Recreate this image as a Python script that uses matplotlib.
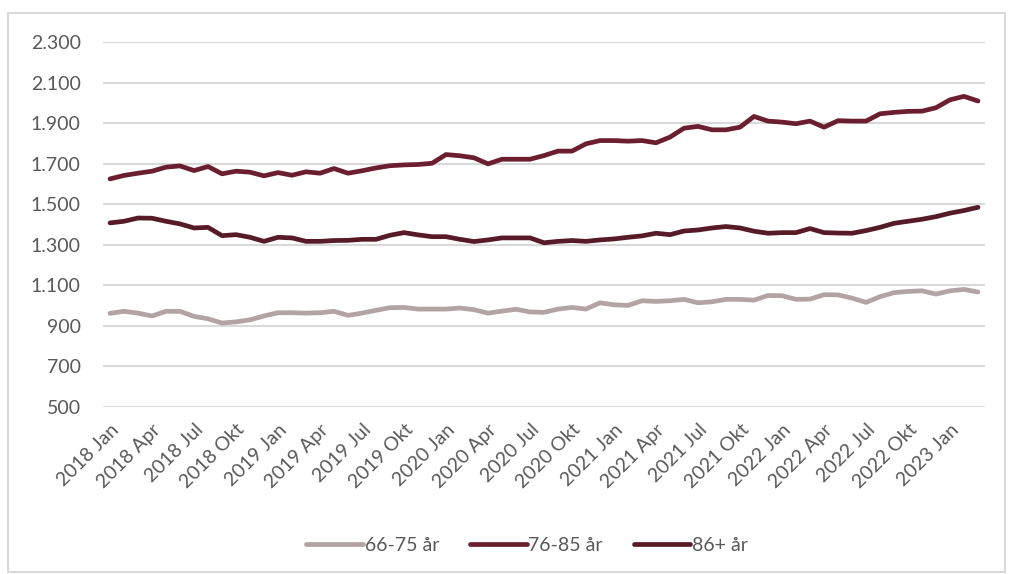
import matplotlib.pyplot as plt
from matplotlib.patches import Rectangle
from matplotlib.ticker import FuncFormatter

plt.rcParams['font.family'] = ['Lato', 'DejaVu Sans']

# Månedlige verdier, 2018 Jan - 2023 Mar
maaneder = ['Jan', 'Feb', 'Mar', 'Apr', 'Mai', 'Jun', 'Jul', 'Aug', 'Sep', 'Okt', 'Nov', 'Des']
perioder = [f"{aar} {m}" for aar in range(2018, 2024) for m in maaneder][:63]

grp_66_75 = [962, 972, 963, 949, 972, 972, 947, 935, 914, 920, 930, 949,
             965, 965, 963, 965, 972, 952, 963, 977, 990, 991, 983, 983,
             983, 988, 980, 963, 973, 982, 969, 967, 983, 991, 983, 1014,
             1004, 1001, 1024, 1021, 1024, 1031, 1014, 1019, 1031, 1031, 1027, 1050,
             1049, 1031, 1032, 1054, 1053, 1037, 1016, 1044, 1064, 1070, 1073, 1057,
             1073, 1080, 1067]
grp_76_85 = [1625, 1642, 1653, 1663, 1683, 1689, 1666, 1686, 1650, 1663, 1658, 1640,
             1656, 1643, 1660, 1653, 1676, 1653, 1665, 1679, 1690, 1694, 1696, 1702,
             1745, 1739, 1729, 1699, 1722, 1722, 1722, 1740, 1762, 1762, 1798, 1814,
             1814, 1811, 1814, 1803, 1831, 1875, 1884, 1867, 1867, 1880, 1933, 1910,
             1905, 1897, 1910, 1880, 1912, 1910, 1910, 1946, 1953, 1958, 1959, 1976,
             2015, 2032, 2009]
grp_86 = [1408, 1416, 1432, 1431, 1416, 1403, 1383, 1386, 1345, 1350, 1337, 1317,
          1337, 1334, 1317, 1317, 1321, 1322, 1327, 1327, 1347, 1360, 1349, 1340,
          1340, 1327, 1316, 1324, 1334, 1334, 1334, 1310, 1317, 1321, 1317, 1324,
          1329, 1337, 1344, 1357, 1350, 1368, 1373, 1383, 1390, 1383, 1367, 1357,
          1360, 1360, 1380, 1360, 1358, 1357, 1370, 1386, 1406, 1416, 1426, 1439,
          1456, 1469, 1485]

serier = [("66-75 år", grp_66_75, '#b3a3a3'),
          ("76-85 år", grp_76_85, '#6b1f2e'),
          ("86+ år", grp_86, '#571a27')]

fig = plt.figure(figsize=(10.14, 5.74), dpi=100)
ax = fig.add_axes([0.1016, 0.2909, 0.8698, 0.6359])

x = list(range(len(perioder)))
for navn, verdier, farge in serier:
    ax.plot(x, verdier, color=farge, lw=3.4, label=navn, solid_capstyle='round')

ax.set_xlim(-0.5, len(perioder) - 0.5)
ax.set_ylim(500, 2300)
ax.set_yticks(range(500, 2301, 200))
ax.yaxis.set_major_formatter(FuncFormatter(lambda v, p: f"{int(v):,}".replace(',', '.')))
ax.grid(axis='y', color='#d9d9d9', lw=1.5)
ax.set_axisbelow(True)
for s in ax.spines.values():
    s.set_visible(False)

ax.set_xticks(x[::3])
ax.set_xticklabels(perioder[::3], rotation=45, ha='right', rotation_mode='anchor')
ax.tick_params(length=0, labelsize=14, colors='#595959')
ax.tick_params(axis='y', pad=16)
ax.tick_params(axis='x', pad=10)

fig.legend(loc='center', bbox_to_anchor=(0.52, 0.05), ncol=3, frameon=False,
           fontsize=14, labelcolor='#595959', handlelength=2.9, handletextpad=0.1,
           columnspacing=1.6)

fig.patches.append(Rectangle((8 / 1014, 2 / 574), 997 / 1014, 559 / 574,
                             transform=fig.transFigure, fill=False,
                             edgecolor='#d9d9d9', lw=1.5))

fig.savefig('out.png', dpi=100)
